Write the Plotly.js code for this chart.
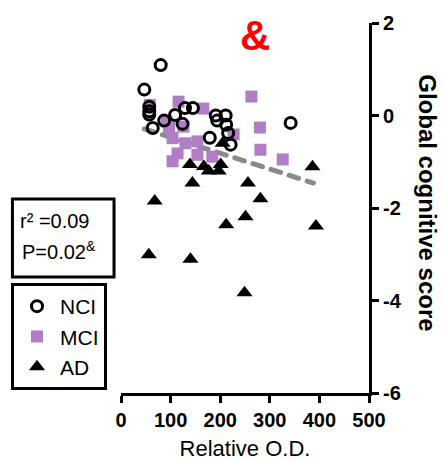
<!DOCTYPE html>
<html>
<head>
<meta charset="utf-8">
<script src="https://cdn.plot.ly/plotly-3.0.1.min.js"></script>
<style>html,body{margin:0;padding:0;background:#fff;}#chart{width:444px;height:461px;}</style>
</head>
<body>
<div id="chart"></div>
<script>
// NCI (open circles)
const nciX = [80, 47, 57, 57, 57, 64, 87, 109, 124, 129, 145, 179, 191, 194, 211, 212, 216, 221, 342];
const nciY = [1.09, 0.56, 0.19, 0.09, 0.02, -0.27, -0.11, 0.01, -0.18, 0.16, 0.16, -0.48, 0.0, -0.11, 0.0, -0.20, -0.38, -0.63, -0.16];
// MCI (purple squares)
const mciX = [58, 116, 166, 263, 97, 92, 126, 104, 130, 154, 114, 154, 184, 104, 227, 280, 281, 326];
const mciY = [0.23, 0.30, 0.15, 0.41, -0.27, -0.13, -0.24, -0.49, -0.60, -0.56, -0.82, -0.85, -0.89, -0.99, -0.41, -0.26, -0.74, -0.95];
// AD (filled triangles)
const adX = [139, 167, 177, 197, 201, 144, 256, 386, 68, 281, 251, 212, 393, 56, 140, 249, 205];
const adY = [-1.06, -1.10, -1.20, -1.20, -1.06, -1.46, -1.46, -1.11, -1.85, -1.80, -2.19, -2.36, -2.39, -3.01, -3.11, -3.83, -0.60];
// regression line
const fitX = [47, 388];
const fitY = [-0.29, -1.46];

const xTicks = [0, 100, 200, 300, 400, 500];
const yTicks = [-6, -4, -2, 0, 2];

const FONT = "Liberation Sans, Arial, Helvetica, sans-serif";

// pixel -> paper helpers (plot area: x 120..369, y 23..393)
const L = 120, R = 75, T = 23, B = 68, W = 444, H = 461;
const pw = W - L - R, ph = H - T - B;
const px = v => (v - L) / pw;
const py = v => (H - B - v) / ph;

const traces = [
  {x: fitX, y: fitY, mode: 'lines', showlegend: false, hoverinfo: 'skip',
   line: {color: '#8a8a8a', width: 5, dash: '10px,9px'}},
  {x: mciX, y: mciY, mode: 'markers', name: 'MCI', legendrank: 2,
   marker: {symbol: 'square', size: 12, color: '#b07ec4', line: {width: 0}}},
  {x: adX, y: adY, mode: 'markers', name: 'AD', legendrank: 3,
   marker: {symbol: 'triangle-up', size: 14, color: '#000000', line: {width: 0}}},
  {x: nciX, y: nciY, mode: 'markers', name: 'NCI', legendrank: 1,
   marker: {symbol: 'circle-open', size: 11, color: '#000000', line: {width: 3, color: '#000000'}}}
];

const layout = {
  width: W, height: H,
  margin: {l: L, r: R, t: T, b: B, pad: 0},
  paper_bgcolor: '#ffffff', plot_bgcolor: 'rgba(0,0,0,0)',
  font: {family: FONT, color: '#000'},
  showlegend: true,
  legend: {
    x: px(11), y: py(283), xanchor: 'left', yanchor: 'top',
    bordercolor: '#000', borderwidth: 3, bgcolor: '#fff',
    font: {family: FONT, size: 21, color: '#000'},
    traceorder: 'normal', tracegroupgap: 3, itemwidth: 36
  },
  xaxis: {
    range: [0, 500], tickvals: xTicks, ticktext: xTicks.map(String),
    showline: true, linecolor: '#000', linewidth: 3,
    ticks: 'outside', ticklen: 7, tickwidth: 3, tickcolor: '#000',
    tickfont: {family: FONT, size: 20, weight: 'bold', color: '#000'},
    showgrid: false, zeroline: false, fixedrange: true,
    title: {text: 'Relative O.D.', font: {family: FONT, size: 22, color: '#000'}, standoff: 12}
  },
  yaxis: {
    range: [-6, 2], side: 'right', tickvals: yTicks, ticktext: yTicks.map(String),
    showline: true, linecolor: '#000', linewidth: 3,
    ticks: 'outside', ticklen: 7, tickwidth: 3, tickcolor: '#000',
    tickfont: {family: FONT, size: 20, weight: 'bold', color: '#000'},
    showgrid: false, zeroline: false, fixedrange: true
  },
  shapes: [
    {type: 'rect', xref: 'paper', yref: 'paper', x0: px(11), x1: px(113), y0: py(277), y1: py(199),
     line: {color: '#000', width: 3}, fillcolor: 'rgba(0,0,0,0)'}
  ],
  annotations: [
    {xref: 'paper', yref: 'paper', x: px(255), y: py(35), xanchor: 'center', yanchor: 'middle',
     text: '&', showarrow: false, font: {family: FONT, size: 42, weight: 'bold', color: '#ff0000'}},
    {xref: 'paper', yref: 'paper', x: px(428), y: py(203), xanchor: 'center', yanchor: 'middle',
     text: 'Global cognitive score', textangle: 90, showarrow: false,
     font: {family: FONT, size: 24, weight: 'bold', color: '#000'}},
    {xref: 'paper', yref: 'paper', x: px(17), y: py(221), xanchor: 'left', yanchor: 'middle',
     text: 'r² =0.09', showarrow: false, font: {family: FONT, size: 20, color: '#000'}},
    {xref: 'paper', yref: 'paper', x: px(19), y: py(251), xanchor: 'left', yanchor: 'middle',
     text: 'P=0.02<sup>&</sup>', showarrow: false, font: {family: FONT, size: 20, color: '#000'}}
  ]
};

Plotly.newPlot('chart', traces, layout, {staticPlot: true, displayModeBar: false}).then(gd => {
  const fix = () => {
    const p = gd.querySelector('.scatterlayer .trace path.js-line');
    if (p) p.style.strokeLinecap = 'round';
  };
  fix();
  gd.on('plotly_afterplot', fix);
});
</script>
</body>
</html>
